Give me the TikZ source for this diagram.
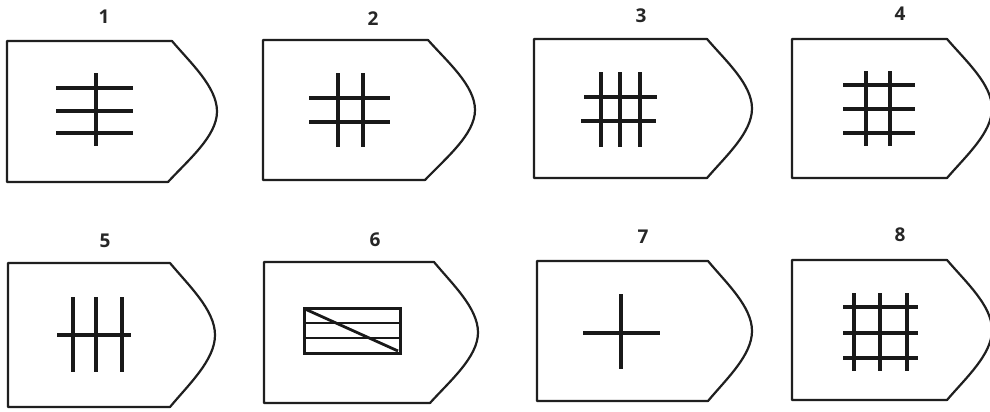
\documentclass[tikz,border=0pt]{standalone}
\usepackage{fontspec}
\setmainfont{Open Sans}
\tikzset{
  x=1pt, y=-1pt,
  outline/.style={draw=black!88, line width=2.2pt, line join=round},
  stroke/.style={draw=black!90, line width=3.2pt},
  thinstroke/.style={draw=black!90, line width=2.8pt},
  num/.style={font=\fontsize{19}{20}\selectfont\bfseries, text=black!85, inner sep=0pt}
}
% \plate{L}{T}{B}{Ctop}{Cbot}{tip}
\newcommand\plate[6]{%
  \pgfmathsetmacro\pmid{(#2+#3)/2}%
  \pgfmathsetmacro\pw{#6-#4}%
  \pgfmathsetmacro\pwb{#6-#5}%
  \pgfmathsetmacro\ph{\pmid-#2}%
  \draw[outline] (#1,#2) -- (#4,#2)
    .. controls (#4+0.41*\pw,#2+0.31*\ph) and (#6,\pmid-0.35*\ph) .. (#6,\pmid)
    .. controls (#6,\pmid+0.35*\ph) and (#5+0.41*\pwb,#3-0.31*\ph) .. (#5,#3)
    -- (#1,#3) -- cycle;}
\begin{document}
\begin{tikzpicture}
\useasboundingbox (0,0) rectangle (990,412);
\clip (0,0) rectangle (990,412);
\fill[white] (0,0) rectangle (990,412);
% plates
\plate{7}{41}{182}{172}{168}{217}
\plate{263}{40}{180}{428}{425}{475}
\plate{534}{39}{178}{707}{707}{752}
\plate{792}{39}{178}{947}{947}{992}
\plate{8}{263}{407}{170}{170}{215}
\plate{264}{262}{403}{434}{430}{478}
\plate{537}{261}{401}{708}{708}{752}
\plate{792}{260}{400}{947}{947}{992}
% labels
\node[num] (n1) at (104,17) {1};
\node[num] (n2) at (373,19) {2};
\node[num] (n3) at (641,16) {3};
\node[num] (n4) at (900,14) {4};
\node[num] (n5) at (105,241) {5};
\node[num] (n6) at (375,240) {6};
\node[num] (n7) at (643,237) {7};
\node[num] (n8) at (900,235) {8};
% 1
\foreach \y in {88,111,133} \draw[stroke] (56,\y) -- (133,\y);
\draw[stroke] (96,73) -- (96,146);
% 2
\foreach \x in {338,363} \draw[stroke] (\x,73) -- (\x,147);
\foreach \y in {98,122} \draw[stroke] (309,\y) -- (390,\y);
% 3
\foreach \x in {601,620,640} \draw[stroke] (\x,72) -- (\x,147);
\draw[stroke] (584,97) -- (657,97);
\draw[stroke] (581,121) -- (656,121);
% 4
\foreach \y in {85,109,133} \draw[stroke] (843,\y) -- (915,\y);
\foreach \x in {866,890} \draw[stroke] (\x,71) -- (\x,146);
% 5
\foreach \x in {73,96,122} \draw[stroke] (\x,297) -- (\x,372);
\draw[stroke] (57,335) -- (131,335);
% 6
\draw[thinstroke, line width=3pt] (304,308) rectangle (400,353);
\foreach \y in {323,338} \draw[thinstroke] (304,\y) -- (400,\y);
\draw[thinstroke] (305,309) -- (398,351);
% 7
\draw[stroke] (583,333) -- (660,333);
\draw[stroke] (621,294) -- (621,369);
% 8
\foreach \y in {307,333,358} \draw[stroke] (843,\y) -- (918,\y);
\foreach \x in {854,880,907} \draw[stroke] (\x,293) -- (\x,371);
\end{tikzpicture}
\end{document}
